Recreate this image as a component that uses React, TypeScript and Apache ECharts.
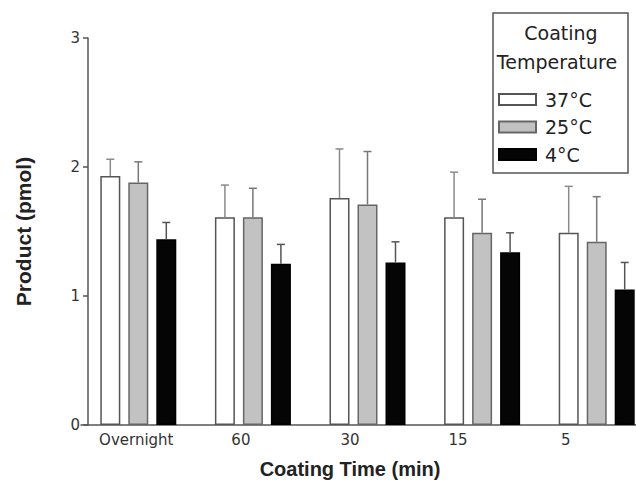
import React, { useEffect, useRef } from "react";
import * as echarts from "echarts";

const categories = ["Overnight", "60", "30", "15", "5"];
const seriesNames = ["37°C", "25°C", "4°C"];
const mean37 = [1.93, 1.61, 1.76, 1.61, 1.49];
const sd37 = [0.13, 0.25, 0.38, 0.35, 0.36];
const mean25 = [1.88, 1.61, 1.71, 1.49, 1.42];
const sd25 = [0.16, 0.225, 0.41, 0.26, 0.35];
const mean4 = [1.44, 1.25, 1.26, 1.34, 1.05];
const sd4 = [0.13, 0.15, 0.16, 0.15, 0.21];
const yTicks = [0, 1, 2, 3];

// styling constants
const FONT = "DejaVu Sans, Liberation Sans, sans-serif";
const BOLD_FONT = "Liberation Sans, Arial, sans-serif";
const LABEL_PAD = [4, 24, 35, 48, 62];
const BAR_W = 20;
const BAR_STEP = 28;

export default function App() {
  const ref = useRef<HTMLDivElement>(null);
  useEffect(() => {
    document.body.style.margin = "0";
    document.body.style.overflow = "hidden";
    if (!ref.current) return;
    const chart = echarts.init(ref.current, undefined, { renderer: "svg" });
    const means = [mean37, mean25, mean4];
    const sds = [sd37, sd25, sd4];
    const fills = ["#ffffff", "#c2c2c2", "#050505"];
    const borders = ["#555555", "#666666", "#000000"];
    const errColors = ["#8a8a8a", "#777777", "#555555"];

    const rich: any = {};
    LABEL_PAD.forEach((p, i) => {
      rich["s" + i] = {
        fontFamily: FONT,
        fontSize: 15,
        color: "#333",
        padding: [0, p, 0, 0],
      };
    });

    const barSeries = means.map((m, si) => ({
      name: seriesNames[si],
      type: "bar",
      data: m,
      barWidth: BAR_W,
      barGap: "40%",
      itemStyle: { color: fills[si], borderColor: borders[si], borderWidth: 1.5 },
      z: 2,
    }));

    const errSeries = means.map((m, si) => ({
      type: "custom",
      data: m.map((v, i) => [i, v, v + sds[si][i]]),
      z: 3,
      renderItem: (params: any, api: any) => {
        const idx = api.value(0);
        const base = api.coord([idx, api.value(1)]);
        const top = api.coord([idx, api.value(2)]);
        const x = base[0] + (si - 1) * BAR_STEP;
        const style = { stroke: errColors[si], lineWidth: 1.5 };
        return {
          type: "group",
          children: [
            { type: "line", shape: { x1: x, y1: base[1], x2: x, y2: top[1] }, style },
            { type: "line", shape: { x1: x - 4, y1: top[1], x2: x + 4, y2: top[1] }, style },
          ],
        };
      },
    }));

    chart.setOption({
      animation: false,
      backgroundColor: "#ffffff",
      grid: { left: 81, width: 573, top: 38, bottom: 57, containLabel: false },
      xAxis: {
        type: "category",
        data: categories,
        name: "Coating Time (min)",
        nameLocation: "middle",
        nameGap: 34,
        nameTextStyle: {
          fontFamily: BOLD_FONT,
          fontSize: 20,
          fontWeight: "bold",
          color: "#222",
          padding: [0, 35, 0, 0],
        },
        axisLine: { lineStyle: { color: "#555", width: 1.5 } },
        axisTick: { show: false },
        axisLabel: {
          margin: 7,
          formatter: (v: string, i: number) => `{s${i}|${v}}`,
          rich,
        },
      },
      yAxis: {
        type: "value",
        min: yTicks[0],
        max: yTicks[yTicks.length - 1],
        interval: 1,
        offset: -7,
        name: "Product (pmol)",
        nameLocation: "middle",
        nameGap: 54,
        nameRotate: 90,
        nameTextStyle: { fontFamily: BOLD_FONT, fontSize: 21, fontWeight: "bold", color: "#222" },
        splitLine: { show: false },
        axisLine: { show: true, lineStyle: { color: "#555", width: 1.5 } },
        axisTick: { show: true, length: 5, lineStyle: { color: "#555", width: 1.5 } },
        axisLabel: { fontFamily: FONT, fontSize: 15, color: "#333", margin: 8 },
      },
      legend: {
        data: seriesNames,
        orient: "vertical",
        left: 498,
        top: 90,
        padding: 0,
        itemWidth: 37,
        itemHeight: 11,
        itemGap: 8.5,
        icon: "rect",
        formatter: "{a|{name}}",
        textStyle: {
          fontFamily: FONT,
          fontSize: 19,
          color: "#222",
          rich: { a: { fontFamily: FONT, fontSize: 19, color: "#222", padding: [0, 0, 0, 4] } },
        },
      },
      graphic: [
        {
          type: "rect",
          shape: { x: 493, y: 13, width: 135, height: 160 },
          style: { fill: "#fff", stroke: "#555", lineWidth: 1.5 },
          z: 0,
        },
        {
          type: "text",
          x: 561,
          y: 33,
          style: {
            text: "Coating",
            fontFamily: FONT,
            fontSize: 19,
            fill: "#222",
            align: "center",
            verticalAlign: "middle",
          },
        },
        {
          type: "text",
          x: 557,
          y: 62,
          style: {
            text: "Temperature",
            fontFamily: FONT,
            fontSize: 19,
            fill: "#222",
            align: "center",
            verticalAlign: "middle",
          },
        },
      ],
      series: [...barSeries, ...errSeries],
    });
    return () => chart.dispose();
  }, []);
  return <div ref={ref} style={{ width: 680, height: 484 }} />;
}
